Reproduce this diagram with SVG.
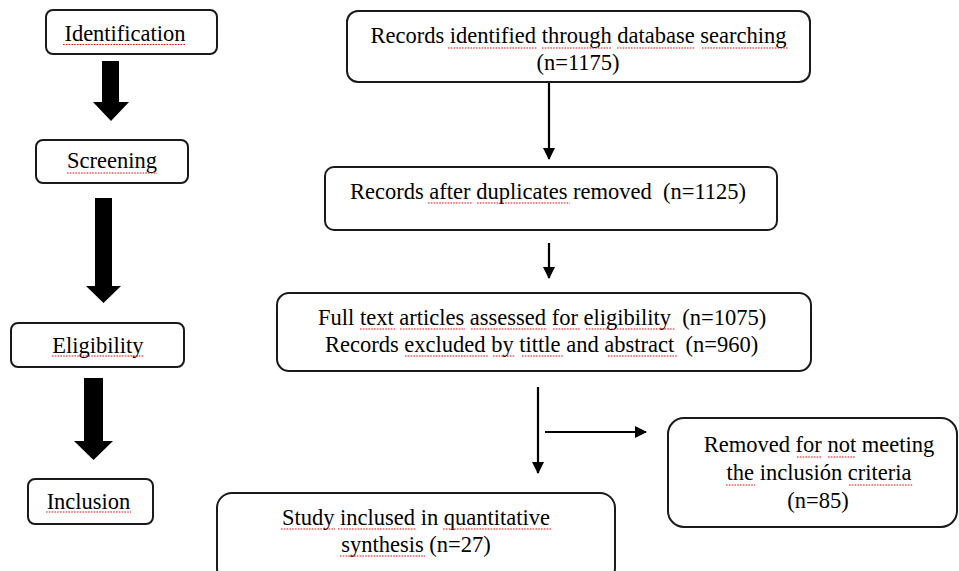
<svg xmlns="http://www.w3.org/2000/svg" width="959" height="571" viewBox="0 0 959 571">
<style>
  .box { fill: #fff; stroke: #1a1a1a; stroke-width: 2; }
  .t { font-family: "Liberation Serif", "Times New Roman", serif; font-size: 22.5px; fill: #000; white-space: pre; }
  .c { text-anchor: middle; }
  .ln { stroke: #000; stroke-width: 2.2; fill: none; }
  .big { fill: #000; }
  .sp { stroke: #e01010; stroke-width: 1.1; stroke-dasharray: 1.6 1.2; fill: none; }
</style>
<defs>
  <marker id="ah" markerWidth="12" markerHeight="12" refX="11" refY="6" orient="auto" markerUnits="userSpaceOnUse">
    <path d="M0,0 L12,6 L0,12 Z" fill="#000"/>
  </marker>
</defs>
<rect width="959" height="571" fill="#fff"/>

<g id="connectors">
  <polygon class="big" points="102,61 119,61 119,102 129,102 111,121 93,102 102,102"/>
  <polygon class="big" points="95,198 112,198 112,286 121,286 103.5,303 86,286 95,286"/>
  <polygon class="big" points="84,378 103,378 103,441 113,441 93.5,460 74,441 84,441"/>
  <line class="ln" x1="549" y1="74" x2="549" y2="159" marker-end="url(#ah)"/>
  <line class="ln" x1="549" y1="243" x2="549" y2="278" marker-end="url(#ah)"/>
  <line class="ln" x1="538" y1="387" x2="538" y2="473" marker-end="url(#ah)"/>
  <line class="ln" x1="545" y1="432" x2="646" y2="432" marker-end="url(#ah)"/>
</g>

<g id="identification">
  <rect class="box" x="46" y="10" width="171" height="44" rx="7"/>
  <text class="t c" x="125" y="41">Identification</text>
</g>
<g id="screening">
  <rect class="box" x="36" y="140" width="152" height="43" rx="7"/>
  <text class="t c" x="112" y="168">Screening</text>
</g>
<g id="eligibility">
  <rect class="box" x="11" y="323" width="173" height="44" rx="7"/>
  <text class="t c" x="98" y="353">Eligibility</text>
</g>
<g id="inclusion">
  <rect class="box" x="28" y="479" width="125" height="45" rx="7"/>
  <text class="t c" x="88.5" y="509">Inclusion</text>
</g>

<g id="records-identified">
  <rect class="box" x="347" y="11" width="463" height="71" rx="11"/>
  <text class="t c" x="578.5" y="43">Records identified through database searching</text>
  <text class="t c" x="578" y="70">(n=1175)</text>
</g>
<g id="records-after-duplicates">
  <rect class="box" x="325" y="167" width="452" height="63" rx="9"/>
  <text class="t" x="350" y="199">Records after duplicates removed  (n=1125)</text>
</g>
<g id="full-text">
  <rect class="box" x="277" y="293" width="534" height="78" rx="12"/>
  <text class="t" x="318" y="325">Full text articles assessed for eligibility  (n=1075)</text>
  <text class="t" x="325" y="352">Records excluded by tittle and abstract  (n=960)</text>
</g>
<g id="removed">
  <rect class="box" x="668" y="418" width="289" height="109" rx="16"/>
  <text class="t c" x="819" y="452">Removed for not meeting</text>
  <text class="t c" x="819" y="480">the inclusión criteria</text>
  <text class="t c" x="818" y="508">(n=85)</text>
</g>
<g id="study-included">
  <rect class="box" x="217" y="493" width="398" height="90" rx="15"/>
  <text class="t c" x="416" y="525">Study inclused in quantitative</text>
  <text class="t c" x="416" y="552">synthesis (n=27)</text>
</g>

<g id="spellcheck">
  <path class="sp" d="M63,44.5H186 M67,173H157 M52,356H144 M46,512H131
    M448,48H537 M542,48H612 M617,48H695 M702,48H788
    M428,203H473 M477,203H570
    M360,329H395 M400,329H465 M471,329H547 M553,329H580 M586,329H675
    M405,356H488 M493,356H515 M522,356H563 M608,356H678
    M797,457H822 M828,457H855 M726,485H755 M849,485H913
    M281,529H335 M338,529H416 M443,529H551 M340,556H425"/>
</g>
</svg>
